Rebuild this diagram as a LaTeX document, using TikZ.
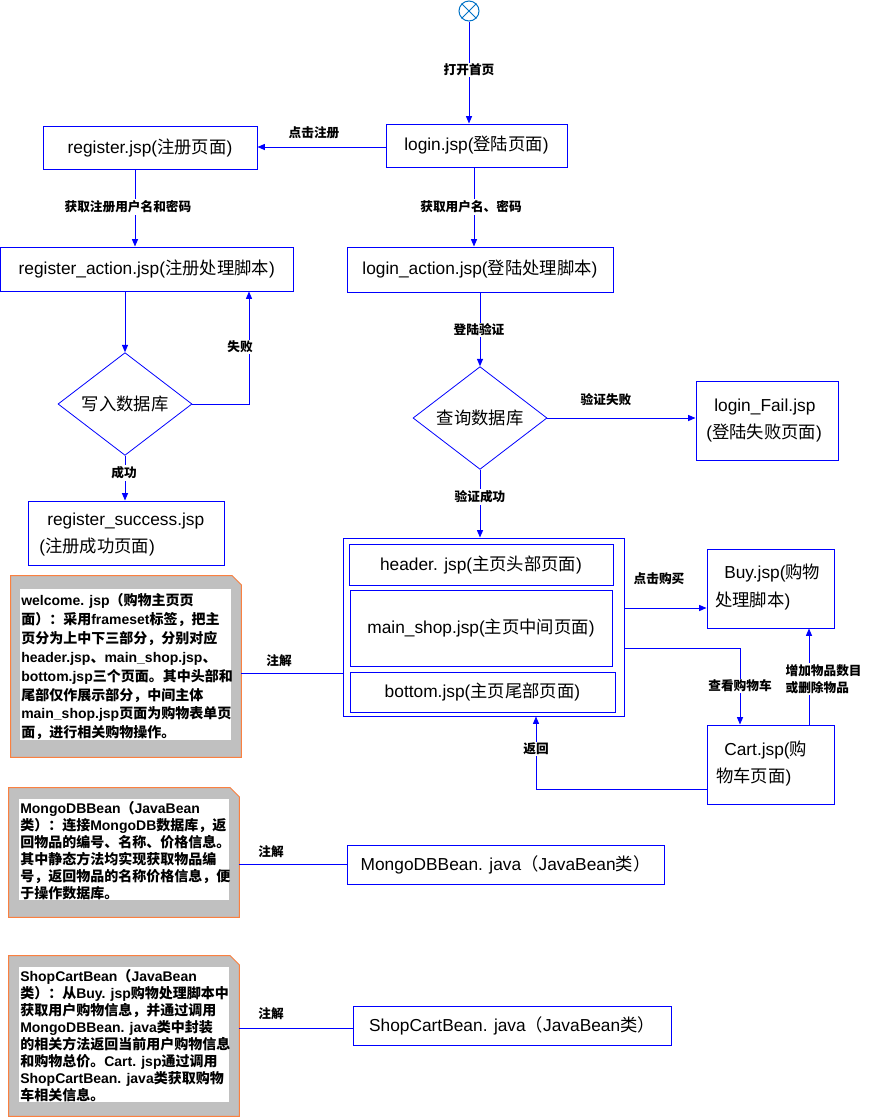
\documentclass[tikz,border=0pt]{standalone}
\usepackage{fontspec}
\setmainfont{Liberation Sans}
\newfontfamily\cjk{Noto Sans CJK SC}
\usetikzlibrary{arrows.meta,shapes.geometric,fit}
\XeTeXinterchartokenstate=1
\newXeTeXintercharclass\cjkcls
\makeatletter
\count@="2E80
\loop \XeTeXcharclass\count@=\cjkcls \advance\count@ 1 \ifnum\count@<"A000 \repeat
\count@="FF00
\loop \XeTeXcharclass\count@=\cjkcls \advance\count@ 1 \ifnum\count@<"FFF0 \repeat
\makeatother
\XeTeXinterchartoks 0 \cjkcls = {\begingroup\cjk}
\XeTeXinterchartoks 4095 \cjkcls = {\begingroup\cjk}
\XeTeXinterchartoks \cjkcls 0 = {\endgroup}
\XeTeXinterchartoks \cjkcls 4095 = {\endgroup}
\newcommand\myboxfont{\fontsize{13}{15}\selectfont}
\newcommand\mylblfont{\fontsize{9.5}{11}\selectfont\bfseries}
\definecolor{startblue}{RGB}{0,114,198}
\definecolor{noteorange}{RGB}{250,128,64}
\definecolor{notegray}{RGB}{192,192,192}
\begin{document}
\begin{tikzpicture}[x=0.75pt,y=-0.75pt,
  ln/.style={draw=blue, line width=0.75pt},
  arr/.style={ln, -{Triangle[length=5.5pt,width=4.5pt]}},
  box/.style={draw=blue, line width=0.75pt, inner sep=0pt, font=\myboxfont},
  txt/.style={inner sep=0pt, font=\myboxfont, anchor=base west},
  dia/.style={diamond, draw=blue, line width=0.6pt, inner sep=0pt, font=\myboxfont,
    minimum width=100.5pt, minimum height=69pt},
  lbl/.style={font=\mylblfont, fill=white, inner sep=1pt},
  notebox/.style={inner sep=0pt},
  notetxt/.style={align=left, inner sep=0pt, anchor=north west},
]
\fill[white] (0,0) rectangle (872,1118);
\useasboundingbox (0,0) rectangle (872,1118);

% start symbol
\node[circle, draw=startblue, line width=0.75pt, minimum size=15pt, inner sep=0pt] (start) at (469,11) {};
\draw[startblue, line width=0.6pt] (start.north east) -- (start.south west);
\draw[startblue, line width=0.6pt] (start.north west) -- (start.south east);

% boxes
\node[box, minimum width=135.75pt, minimum height=32.25pt] (login) at (476.5,145.5) {login.jsp(登陆页面)};
\node[box, minimum width=160.5pt, minimum height=32.25pt] (reg) at (150,147.5) {register.jsp(注册页面)};
\node[box, minimum width=219.4pt, minimum height=33pt] (regact) at (146.75,269) {register\_action.jsp(注册处理脚本)};
\node[dia] (d1) at (125,404) {写入数据库};
\node[box, minimum width=147pt, minimum height=48pt] (regsucc) at (126,533) {};
\node[txt] (regsucc1) at (47,525) {register\_success.jsp};
\node[txt] (regsucc2) at (39,552) {(注册成功页面)};

\node[box, minimum width=199.5pt, minimum height=33.75pt] (loginact) at (480,269.5) {login\_action.jsp(登陆处理脚本)};
\node[dia] (d2) at (480,418) {查询数据库};
\node[box, minimum width=106.5pt, minimum height=59.25pt] (fail) at (767,420.5) {};
\node[txt] (fail1) at (714,411) {login\_Fail.jsp};
\node[txt] (fail2) at (706,438) {(登陆失败页面)};

\node[box, minimum width=210.75pt, minimum height=133.5pt] (cont) at (483.5,627) {};
\node[box, minimum width=198pt, minimum height=30.75pt] (header) at (481,564.5) {header. jsp(主页头部页面)};
\node[box, minimum width=196.5pt, minimum height=57pt] (mainshop) at (481,628) {main\_shop.jsp(主页中间页面)};
\node[box, minimum width=198.75pt, minimum height=30pt] (bottom) at (482.5,692) {bottom.jsp(主页尾部页面)};

\node[box, minimum width=95.25pt, minimum height=59.25pt] (buy) at (770.5,588.5) {};
\node[txt] (buy1) at (724,578) {Buy.jsp(购物};
\node[txt] (buy2) at (715,606) {处理脚本)};
\node[box, minimum width=95.25pt, minimum height=59.25pt] (cart) at (770.5,764.5) {};
\node[txt] (cart1) at (724,755) {Cart.jsp(购};
\node[txt] (cart2) at (716,782) {物车页面)};

\node[box, minimum width=237.75pt, minimum height=29.25pt] (mongo) at (505.5,864.5) {MongoDBBean. java（JavaBean类）};
\node[box, minimum width=238.5pt, minimum height=29.25pt] (shop) at (512,1025.5) {ShopCartBean. java（JavaBean类）};

% notes
\node[notebox, fit={(11,576) (241,757)}] (note1) {};
\node[notebox, fit={(9,788) (239,917)}] (note2) {};
\node[notebox, fit={(9,956) (239,1116)}] (note3) {};
\foreach \n in {note1,note2,note3}{
  \filldraw[fill=notegray, draw=noteorange, line width=0.75pt]
    (\n.north west) -- ([xshift=-6.75pt]\n.north east) -- ([yshift=-6.75pt]\n.north east)
    -- (\n.south east) -- (\n.south west) -- cycle;
}
\fill[white] (20,589) rectangle (231,740);
\fill[white] (19,799) rectangle (229,900);
\fill[white] (19,967) rectangle (229,1102);
\node[notetxt, font=\fontsize{10.5}{14.2}\selectfont\bfseries] (t1) at (21,593) {welcome. jsp（购物主页页\\面）：采用frameset标签，把主\\页分为上中下三部分，分别对应\\header.jsp、main\_shop.jsp、\\bottom.jsp三个页面。其中头部和\\尾部仅作展示部分，中间主体\\main\_shop.jsp页面为购物表单页\\面，进行相关购物操作。};
\node[notetxt, font=\fontsize{10.5}{12.75}\selectfont\bfseries] (t2) at (20,801) {MongoDBBean（JavaBean\\类）：连接MongoDB数据库，返\\回物品的编号、名称、价格信息。\\其中静态方法均实现获取物品编\\号，返回物品的名称价格信息，便\\于操作数据库。};
\node[notetxt, font=\fontsize{10.5}{12.75}\selectfont\bfseries] (t3) at (20,969) {ShopCartBean（JavaBean\\类）：从Buy. jsp购物处理脚本中\\获取用户购物信息，并通过调用\\MongoDBBean. java类中封装\\的相关方法返回当前用户购物信息\\和购物总价。Cart. jsp通过调用\\ShopCartBean. java类获取购物\\车相关信息。};

% connectors
\draw[arr] (start.south) -- (start.south |- login.north);
\draw[arr] (login.west |- 0,147) -- (reg.east |- 0,147);
\draw[arr] (135,0 |- reg.south) -- (135,0 |- regact.north);
\draw[arr] (regact.south -| d1.north) -- (d1.north);
\draw[arr] (d1.east) -| (249,0 |- regact.south);
\draw[arr] (d1.south) -- (d1.south |- regsucc.north);
\draw[arr] (474,0 |- login.south) -- (474,0 |- loginact.north);
\draw[arr] (loginact.south -| d2.north) -- (d2.north);
\draw[arr] (d2.east) -- (d2.east -| fail.west);
\draw[arr] (d2.south) -- (d2.south |- cont.north);
\draw[arr] (cont.east |- 0,608) -- (buy.west |- 0,608);
\draw[arr] (cont.east |- 0,648) -| (740,0 |- cart.north);
\draw[arr] (809,0 |- cart.north) -- (809,0 |- buy.south);
\draw[arr] (cart.west |- 0,789) -| (536,0 |- cont.south);
\draw[ln] (note1.east |- 0,673) -- (cont.west |- 0,673);
\draw[ln] (note2.east |- 0,864) -- (mongo.west |- 0,864);
\draw[ln] (note3.east |- 0,1028) -- (shop.west |- 0,1028);

% labels
\node[lbl] (l1) at (469,70) {打开首页};
\node[lbl] (l2) at (314,133) {点击注册};
\node[lbl] (l3) at (128,207) {获取注册用户名和密码};
\node[lbl] (l4) at (471,207) {获取用户名、密码};
\node[lbl] (l5) at (240,347) {失败};
\node[lbl] (l6) at (124,473) {成功};
\node[lbl] (l7) at (479,330) {登陆验证};
\node[lbl] (l8) at (606,400) {验证失败};
\node[lbl] (l9) at (480,497) {验证成功};
\node[lbl] (l10) at (659,579) {点击购买};
\node[lbl] (l11) at (740,686) {查看购物车};
\node[lbl, align=left, anchor=west, font=\fontsize{9.5}{12.75}\selectfont\bfseries] (l12) at (784,679) {增加物品数目\\或删除物品};
\node[lbl] (l13) at (536,749) {返回};
\node[lbl] (l14) at (279,661) {注解};
\node[lbl] (l15) at (271,852) {注解};
\node[lbl] (l16) at (271,1014) {注解};
\end{tikzpicture}
\end{document}
